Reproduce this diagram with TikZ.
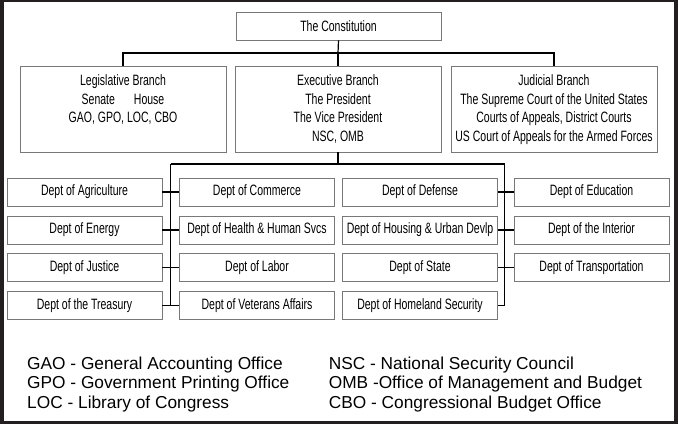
\documentclass[tikz,border=0pt]{standalone}
\usepackage{fontspec}
\setmainfont{Liberation Sans}
\newfontfamily\narrowfont[FakeStretch=0.70]{Liberation Sans}
\definecolor{framecol}{RGB}{35,31,32}
\definecolor{boxline}{RGB}{120,120,120}
\begin{document}
\begin{tikzpicture}[x=1pt,y=-1pt,
  box/.style={draw=boxline, line width=0.9pt, inner sep=0pt, fill=white},
  dept/.style={box, minimum width=155pt, minimum height=28pt, font=\narrowfont\fontsize{15}{17}\selectfont},
  branch/.style={box, minimum width=206pt, minimum height=86pt},
  btext/.style={anchor=north, align=center, inner sep=0pt, font=\narrowfont\fontsize{15}{18.5}\selectfont},
  conn/.style={draw=black, line width=1.2pt},
  legend/.style={anchor=base west, inner sep=0pt, font=\fontsize{17.3}{20}\selectfont}]
\useasboundingbox (0,0) rectangle (678,424);
\fill[framecol] (0,0) rectangle (678,424);
\fill[white] (4,2) rectangle (674,421);

% top
\node[box, minimum width=205pt, minimum height=28pt, font=\narrowfont\fontsize{15}{17}\selectfont] (con) at (338.5,26) {The Constitution};

% branches
\node[branch] (leg) at (123,109) {};
\node[branch] (exe) at (338,109) {};
\node[branch] (jud) at (554,109) {};
\node[btext] (legt) at ([yshift=-9pt]leg.north) {Legislative Branch\\Senate\hspace{19pt}House\\GAO, GPO, LOC, CBO};
\node[btext] (exet) at ([yshift=-9pt]exe.north) {Executive Branch\\The President\\The Vice President\\NSC, OMB};
\node[btext] (judt) at ([yshift=-9pt]jud.north) {Judicial Branch\\The Supreme Court of the United States\\Courts of Appeals, District Courts\\US Court of Appeals for the Armed Forces};

% departments
\node[dept] (d11) at (84.5,192) {Dept of Agriculture};
\node[dept] (d12) at (257,192) {Dept of Commerce};
\node[dept] (d13) at (420,192) {Dept of Defense};
\node[dept] (d14) at (591.5,192) {Dept of Education};
\node[dept] (d21) at (84.5,230) {Dept of Energy};
\node[dept] (d22) at (257,230) {Dept of Health \& Human Svcs};
\node[dept] (d23) at (420,230) {Dept of Housing \& Urban Devlp};
\node[dept] (d24) at (591.5,230) {Dept of the Interior};
\node[dept] (d31) at (84.5,267.5) {Dept of Justice};
\node[dept] (d32) at (257,267.5) {Dept of Labor};
\node[dept] (d33) at (420,267.5) {Dept of State};
\node[dept] (d34) at (591.5,267.5) {Dept of Transportation};
\node[dept] (d41) at (84.5,305.5) {Dept of the Treasury};
\node[dept] (d42) at (257,305.5) {Dept of Veterans Affairs};
\node[dept] (d43) at (420,305.5) {Dept of Homeland Security};

% connectors
\coordinate (top) at (338,53);
\draw[conn] (con.south) -- (top);
\draw[conn] (leg.north) |- (top) -| (jud.north);
\draw[conn] (top) -- (exe.north);
\coordinate (bl) at (170.7,164);
\coordinate (br) at (504.7,164);
\draw[conn] (exe.south) -- (exe.south |- bl);
\draw[conn] (bl) -- (br);
\draw[conn] (bl) -- (bl |- d41.east);
\draw[conn] (br) -- (br |- d43.east);
\draw[conn] (d11.east) -- (d12.west);
\draw[conn] (d21.east) -- (d22.west);
\draw[conn] (d31.east) -- (d32.west);
\draw[conn] (d41.east) -- (d42.west);
\draw[conn] (d13.east) -- (d14.west);
\draw[conn] (d23.east) -- (d24.west);
\draw[conn] (d33.east) -- (d34.west);
\draw[conn] (d43.east) -- (br |- d43.east);

% legend
\node[legend] (l1) at (27,369) {GAO - General Accounting Office};
\node[legend] (l2) at (27,388.5) {GPO - Government Printing Office};
\node[legend] (l3) at (27,408) {LOC - Library of Congress};
\node[legend] (r1) at (328.6,369) {NSC - National Security Council};
\node[legend] (r2) at (328.6,388.5) {OMB -Office of Management and Budget};
\node[legend] (r3) at (328.6,408) {CBO - Congressional Budget Office};
\end{tikzpicture}
\end{document}
